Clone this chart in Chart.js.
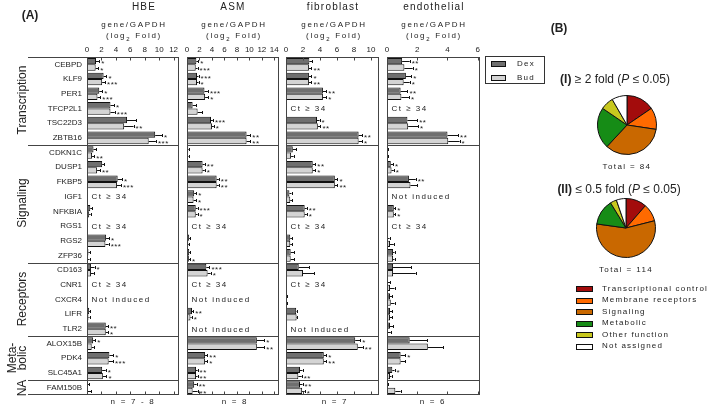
<!DOCTYPE html>
<html><head><meta charset="utf-8">
<script src="https://cdn.jsdelivr.net/npm/chart.js@4/dist/chart.umd.min.js"></script>
<style>
body{margin:0;background:#fff;width:709px;height:409px;overflow:hidden;position:relative;font-family:"Liberation Sans",Arial,sans-serif;color:#222}
canvas{position:absolute}
.t{position:absolute;white-space:nowrap;line-height:1;transform:translate(-50%,-50%)}
.hd{font-size:10px;letter-spacing:1.2px}
.sm{font-size:8px;letter-spacing:1.7px}
.grp{position:absolute;white-space:nowrap;font-size:12px;line-height:10px;text-align:center;transform:translate(-50%,-50%) rotate(-90deg)}
.lg{position:absolute;font-size:8px;letter-spacing:1.2px;white-space:nowrap;line-height:1}
.sw{position:absolute;width:15px;height:4px;border:1px solid #111}
</style></head><body>
<canvas id="pHBE" width="709" height="409" style="left:0;top:0"></canvas>
<canvas id="pASM" width="709" height="409" style="left:0;top:0"></canvas>
<canvas id="pFIB" width="709" height="409" style="left:0;top:0"></canvas>
<canvas id="pEND" width="709" height="409" style="left:0;top:0"></canvas>
<canvas id="pie1" width="62" height="62" style="left:596px;top:94px"></canvas>
<canvas id="pie2" width="62" height="62" style="left:595px;top:197px"></canvas>

<div class="t" style="left:30px;top:15px;font-size:12px;font-weight:bold">(A)</div>
<div class="t hd" style="left:144px;top:7px">HBE</div>
<div class="t hd" style="left:233px;top:7px">ASM</div>
<div class="t hd" style="left:333px;top:7px">fibroblast</div>
<div class="t hd" style="left:434px;top:7px">endothelial</div>
<div class="t sm" style="left:134px;top:25px">gene/GAPDH</div>
<div class="t sm" style="left:134px;top:37px">(log<sub style="font-size:6px">2</sub> Fold)</div>
<div class="t sm" style="left:234px;top:25px">gene/GAPDH</div>
<div class="t sm" style="left:234px;top:37px">(log<sub style="font-size:6px">2</sub> Fold)</div>
<div class="t sm" style="left:334px;top:25px">gene/GAPDH</div>
<div class="t sm" style="left:334px;top:37px">(log<sub style="font-size:6px">2</sub> Fold)</div>
<div class="t sm" style="left:434px;top:25px">gene/GAPDH</div>
<div class="t sm" style="left:434px;top:37px">(log<sub style="font-size:6px">2</sub> Fold)</div>

<div class="grp" style="left:21.5px;top:100px">Transcription</div>
<div class="grp" style="left:21.5px;top:203px">Signaling</div>
<div class="grp" style="left:21.5px;top:299px">Receptors</div>
<div class="grp" style="left:17px;top:358px">Meta-<br>bolic</div>
<div class="grp" style="left:22px;top:388px">NA</div>

<div class="t sm" style="left:133px;top:402px">n = 7 - 8</div>
<div class="t sm" style="left:235px;top:402px">n = 8</div>
<div class="t sm" style="left:335px;top:402px">n = 7</div>
<div class="t sm" style="left:433px;top:402px">n = 6</div>

<div style="position:absolute;left:485px;top:56px;width:58px;height:26px;border:1px solid #333"></div>
<div class="sw" style="left:491px;top:61px;width:13px;background:#6f6f6f"></div>
<div class="sw" style="left:491px;top:75px;width:13px;background:#d4d4d4"></div>
<div class="lg" style="left:517px;top:60px">Dex</div>
<div class="lg" style="left:517px;top:74px">Bud</div>

<div class="t" style="left:559px;top:28px;font-size:12px;font-weight:bold">(B)</div>
<div class="t" style="left:615px;top:79px;font-size:12px"><b>(I)</b> ≥ 2 fold (<i>P</i> ≤ 0.05)</div>
<div class="t sm" style="left:627px;top:167px;letter-spacing:1.4px">Total = 84</div>
<div class="t" style="left:619px;top:189px;font-size:12px"><b>(II)</b> ≤ 0.5 fold (<i>P</i> ≤ 0.05)</div>
<div class="t sm" style="left:626px;top:270px;letter-spacing:1.4px">Total = 114</div>
<div id="pieLegend"></div>

<script>
const genes = ['CEBPD','KLF9','PER1','TFCP2L1','TSC22D3','ZBTB16','CDKN1C','DUSP1','FKBP5','IGF1','NFKBIA','RGS1','RGS2','ZFP36','CD163','CNR1','CXCR4','LIFR','TLR2','ALOX15B','PDK4','SLC45A1','FAM150B'];
const groupBreaks = [6, 14, 19, 22];

// HBE
const hbeTicks = [0,2,4,6,8,10,12];
const hbeDex = [1.25,2.3,1.7,3.25,5.55,9.45,0.9,2.1,4.25,null,0.45,null,2.65,0.2,0.55,null,null,0.3,2.6,0.85,3.1,2.1,0.1];
const hbeBud = [1.2,2.1,1.45,3.25,5.15,8.55,0.7,1.4,4.15,null,0.3,null,2.55,0.15,0.55,null,null,0.2,2.6,0.65,3.0,2.2,0.12];
const hbeDexErr = [0.45,0.4,0.4,0.5,1.25,0.95,0.35,0.3,0.6,null,0.25,null,0.4,0.2,0.5,null,null,0.15,0.3,0.3,0.55,0.5,0.2];
const hbeBudErr = [0.35,0.4,0.4,0.6,1.3,1.0,0.3,0.4,0.55,null,0.2,null,0.45,0.2,0.4,null,null,0.15,0.3,0.3,0.6,0.5,0.45];
const hbeDexSig = ['*','*','*','*','','*','','','*','','','','*','','*','','','','**','*','*','*',''];
const hbeBudSig = ['*','***','***','***','**','***','**','**','***','','','','***','','','','','','*','','***','*',''];
const hbeNotes = ['','','','','','','','','','Ct ≥ 34','','Ct ≥ 34','','','','Ct ≥ 34','Not induced','','','','','',''];

// ASM
const asmTicks = [0,2,4,6,8,10,12,14];
const asmDex = [1.5,1.6,2.8,0.9,3.85,9.55,0.2,2.5,4.75,1.15,1.4,null,0.35,0.35,3.1,null,null,0.8,null,11.2,2.9,1.45,1.15];
const asmBud = [1.4,1.6,2.9,1.7,4.0,9.55,0.15,2.5,4.75,1.05,1.4,null,0.2,0.3,3.3,null,null,0.55,null,11.2,2.9,1.45,0.9];
const asmDexErr = [0.3,0.25,0.55,0.6,0.3,0.6,0.1,0.35,0.35,0.35,0.3,null,0.2,0.2,0.5,null,null,0.2,null,1.2,0.35,0.25,0.4];
const asmBudErr = [0.3,0.25,0.5,0.75,0.3,0.6,0.1,0.35,0.35,0.4,0.3,null,0.2,0.2,0.5,null,null,0.2,null,1.2,0.35,0.25,0.8];
const asmDexSig = ['*','***','***','','***','**','','**','**','*','***','','','','***','','','**','','*','**','**','**'];
const asmBudSig = ['***','*','*','','*','**','','*','**','*','*','','','*','*','','','*','','**','*','**','**'];
const asmNotes = ['','','','','','','','','','','','Ct ≥ 34','','','','Ct ≥ 34','Not induced','','Not induced','','','',''];

// fibroblast
const fibTicks = [0,2,4,6,8,10];
const fibDex = [2.75,2.7,4.35,null,3.65,8.55,0.8,3.15,5.75,0.4,2.2,null,0.5,0.55,1.5,null,0.08,1.2,null,8.15,4.45,1.65,1.65];
const fibBud = [2.7,2.7,4.35,null,3.75,8.55,0.6,3.15,5.75,0.5,2.2,null,0.5,0.55,2.0,null,0.08,1.25,null,8.45,4.45,1.45,1.9];
const fibDexErr = [0.35,0.3,0.4,null,0.3,0.4,0.4,0.3,0.3,0.25,0.25,null,0.2,0.4,1.25,null,0.05,0.05,null,0.6,0.3,0.3,0.3];
const fibBudErr = [0.3,0.3,0.4,null,0.3,0.4,0.3,0.3,0.3,0.2,0.25,null,0.2,0.45,1.35,null,0.05,0.05,null,0.6,0.3,0.4,0.3];
const fibDexSig = ['','*','**','','*','**','','**','*','','**','','','','','','','','','*','*','','**'];
const fibBudSig = ['**','**','*','','**','*','','*','**','','*','','','','','','','','','**','**','**','*'];
const fibNotes = ['','','','Ct ≥ 34','','','','','','','','Ct ≥ 34','','','','Ct ≥ 34','','','Not induced','','','',''];

// endothelial
const endTicks = [0,2,4,6];
const endDex = [1.0,1.25,0.9,null,1.35,4.0,0.03,0.25,1.45,null,0.45,null,0.07,0.4,0.4,0.06,0.2,0.2,0.2,1.5,0.9,0.35,0.03];
const endBud = [1.15,1.1,0.95,null,1.4,4.05,0.03,0.3,1.55,null,0.45,null,0.2,0.4,0.4,0.2,0.25,0.2,0.05,2.7,0.9,0.2,0.55];
const endDexErr = [0.5,0.35,0.45,null,0.65,0.7,0.05,0.15,0.45,null,0.1,null,0.1,0.1,1.2,0.15,0.15,0.15,0.2,1.15,0.3,0.15,0.03];
const endBudErr = [0.55,0.4,0.5,null,0.65,0.75,0.05,0.15,0.45,null,0.1,null,0.25,0.1,1.5,0.3,0.25,0.15,0.2,1.0,0.3,0.1,0.35];
const endDexSig = ['**','*','**','','**','**','','*','**','','*','','','','','','','','','','*','*',''];
const endBudSig = ['*','*','*','','*','*','','*','','','*','','','','','','','','','','','',''];
const endNotes = ['','','','Ct ≥ 34','','','','','','Not induced','','Ct ≥ 34','','','','','','','','','','',''];

// pies
const pieCategories = ['Transcriptional control','Membrane receptors','Signaling','Metabolic','Other function','Not assigned'];
const pieUp = [13,10,29,19,6,7];
const pieDown = [13,11,64,16,4,6];
const pieColors = ['#a30c0c','#ff6a00','#c96800','#168c16','#c8c81e','#ffffff'];

const FONT = "'Liberation Sans', Arial, sans-serif";
const DEX_COLOR = '#6f6f6f', BUD_COLOR = '#d4d4d4';

const decor = {
  id: 'panelDecor',
  afterLayout(chart) {
    const y = chart.scales.y;
    if (y && !y._spaced) {
      const d = y.draw.bind(y);
      y.draw = function (a) { const c = this.ctx; c.save(); c.letterSpacing = '1.6px'; d(a); c.restore(); };
      y._spaced = true;
    }
  },
  afterDatasetsDraw(chart, args, o) {
    const { ctx, chartArea: { left, right, top, bottom }, scales: { x, y } } = chart;
    ctx.save();
    ctx.strokeStyle = '#111'; ctx.lineWidth = 1;
    ctx.fillStyle = '#222';
    ctx.font = '8px ' + FONT;
    ctx.textBaseline = 'middle';
    [0, 1].forEach(di => {
      const meta = chart.getDatasetMeta(di);
      const vals = chart.data.datasets[di].data;
      const errs = di === 0 ? o.dexErr : o.budErr;
      const sig = di === 0 ? o.dexSig : o.budSig;
      meta.data.forEach((bar, i) => {
        const v = vals[i];
        if (v == null) return;
        const xe = x.getPixelForValue(v + (errs[i] || 0));
        const yy = Math.round(bar.y) + 0.5;
        ctx.beginPath();
        ctx.moveTo(bar.x, yy); ctx.lineTo(xe, yy);
        ctx.moveTo(Math.round(xe) + 0.5, yy - 1.5); ctx.lineTo(Math.round(xe) + 0.5, yy + 1.5);
        ctx.stroke();
        if (sig[i]) {
          ctx.save(); ctx.letterSpacing = '0.5px'; ctx.font = '8px ' + FONT;
          ctx.fillText(sig[i], xe + 2, yy + 2.5);
          ctx.restore();
        }
      });
    });
    // notes
    ctx.save();
    ctx.letterSpacing = '1.5px';
    o.notes.forEach((n, i) => { if (n) ctx.fillText(n, left + 4.5, y.getPixelForValue(i) + 0.5); });
    ctx.restore();
    // box
    ctx.strokeStyle = '#444';
    const L = Math.round(left) + 0.5, R = Math.round(right) - 0.5, T = Math.round(top) + 0.5, B = Math.round(bottom) - 0.5;
    ctx.strokeRect(L, T, R - L, B - T);
    const ext = o.leftExtend != null ? o.leftExtend : L;
    ctx.beginPath();
    ctx.moveTo(ext, T); ctx.lineTo(L, T);
    ctx.moveTo(ext, B); ctx.lineTo(L, B);
    groupBreaks.forEach(k => {
      const yy = Math.round((y.getPixelForValue(k - 1) + y.getPixelForValue(k)) / 2) + 0.5;
      ctx.moveTo(ext, yy); ctx.lineTo(R, yy);
    });
    o.ticks.forEach(v => {
      const xx = Math.round(x.getPixelForValue(v)) + 0.5;
      ctx.moveTo(xx, T); ctx.lineTo(xx, T + 3);
      ctx.moveTo(xx, B); ctx.lineTo(xx, B - 3);
    });
    ctx.stroke();
    ctx.restore();
  }
};

function makePanel(id, p) {
  return new Chart(document.getElementById(id), {
    type: 'bar',
    data: {
      labels: genes,
      datasets: [
        { label: 'Dex', data: p.dex, backgroundColor: DEX_COLOR, borderColor: '#111', borderWidth: 1, borderSkipped: false, categoryPercentage: 0.86, barPercentage: 1 },
        { label: 'Bud', data: p.bud, backgroundColor: BUD_COLOR, borderColor: '#111', borderWidth: 1, borderSkipped: false, categoryPercentage: 0.86, barPercentage: 1 }
      ]
    },
    options: {
      indexAxis: 'y', responsive: false, animation: false, events: [],
      layout: { padding: { left: 0, right: 709 - p.right, top: 0, bottom: 409 - 395 } },
      scales: {
        x: {
          type: 'linear', position: 'top', min: 0, max: p.max,
          afterBuildTicks: s => { s.ticks = p.ticks.map(v => ({ value: v })); },
          afterFit: s => { s.height = 57; },
          grid: { display: false, drawTicks: false }, border: { display: false },
          ticks: { autoSkip: false, maxRotation: 0, padding: 2, font: { size: 8, family: FONT }, color: '#222' }
        },
        y: {
          type: 'category', display: true,
          afterFit: s => { s.width = p.left; },
          grid: { display: false, drawTicks: false }, border: { display: false },
          ticks: { display: !!p.showY, autoSkip: false, padding: 5, font: { size: 8, family: FONT }, color: '#222' }
        }
      },
      plugins: {
        legend: { display: false }, tooltip: { enabled: false },
        panelDecor: { dexErr: p.dexErr, budErr: p.budErr, dexSig: p.dexSig, budSig: p.budSig, notes: p.notes, ticks: p.ticks, leftExtend: p.leftExtend }
      }
    },
    plugins: [decor]
  });
}

makePanel('pHBE', { showY: true, left: 87, right: 179, max: 12.75, ticks: hbeTicks, dex: hbeDex, bud: hbeBud, dexErr: hbeDexErr, budErr: hbeBudErr, dexSig: hbeDexSig, budSig: hbeBudSig, notes: hbeNotes, leftExtend: 28 });
makePanel('pASM', { left: 187, right: 279, max: 14.75, ticks: asmTicks, dex: asmDex, bud: asmBud, dexErr: asmDexErr, budErr: asmBudErr, dexSig: asmDexSig, budSig: asmBudSig, notes: asmNotes });
makePanel('pFIB', { left: 286, right: 379, max: 10.95, ticks: fibTicks, dex: fibDex, bud: fibBud, dexErr: fibDexErr, budErr: fibBudErr, dexSig: fibDexSig, budSig: fibBudSig, notes: fibNotes });
makePanel('pEND', { left: 387, right: 480, max: 6.15, ticks: endTicks, dex: endDex, bud: endBud, dexErr: endDexErr, budErr: endBudErr, dexSig: endDexSig, budSig: endBudSig, notes: endNotes });

function makePie(id, counts) {
  return new Chart(document.getElementById(id), {
    type: 'pie',
    data: { labels: pieCategories, datasets: [{ data: counts, backgroundColor: pieColors, borderColor: '#111', borderWidth: 1 }] },
    options: { responsive: false, animation: false, events: [], layout: { padding: 1 }, plugins: { legend: { display: false }, tooltip: { enabled: false } } }
  });
}
makePie('pie1', pieUp);
makePie('pie2', pieDown);

// pie legend
const lg = document.getElementById('pieLegend');
pieCategories.forEach((c, i) => {
  const yc = 289.3 + i * 11.5;
  const sw = document.createElement('div');
  sw.className = 'sw';
  sw.style.cssText = `left:576px;top:${(yc - 3).toFixed(1)}px;background:${pieColors[i]}`;
  lg.appendChild(sw);
  const tx = document.createElement('div');
  tx.className = 'lg';
  tx.style.cssText = `left:602px;top:${(yc - 4.5).toFixed(1)}px`;
  tx.textContent = c;
  lg.appendChild(tx);
});
</script>
</body></html>
